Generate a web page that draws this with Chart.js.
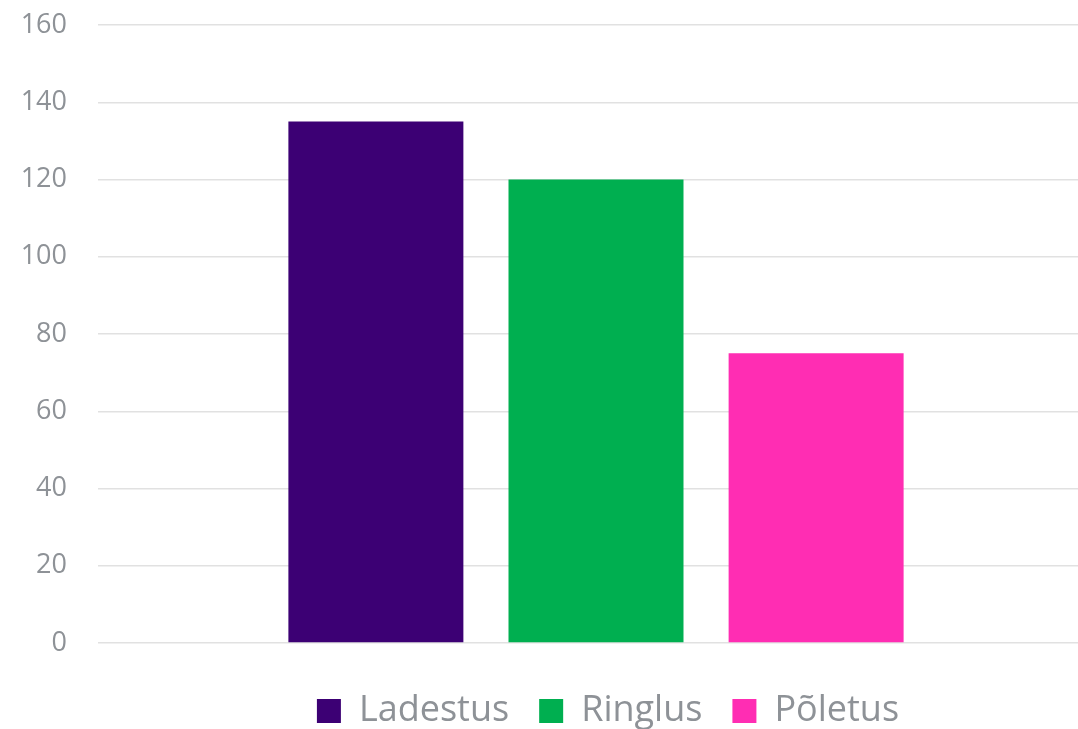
<!DOCTYPE html>
<html>
<head>
<meta charset="utf-8">
<script src="https://cdn.jsdelivr.net/npm/chart.js@4/dist/chart.umd.min.js"></script>
<style>
  html, body { margin: 0; padding: 0; background: #fff; overflow: hidden; }
  #wrap { width: 1110px; height: 729px; position: relative; }
</style>
</head>
<body>
<div id="wrap"><canvas id="wasteChart"></canvas></div>
<script>
const categories = [''];
const seriesNames = ['Ladestus', 'Ringlus', 'Põletus'];
const seriesValues = [[135], [120], [75]];
const seriesColors = ['#3C0074', '#00AF50', '#FF2DB3'];
const yTicks = [0, 20, 40, 60, 80, 100, 120, 140, 160];

const textColor = '#8E9297';

// nudge the legend a bit, Excel puts it lower / slightly right
const legendNudge = {
    id: 'legendNudge',
    afterLayout(chart) {
        const lg = chart.legend;
        if (!lg) return;
        lg.top += 12; lg.bottom += 12;
        lg.left += 12; lg.right += 12;
    }
};

const ctx = document.getElementById('wasteChart').getContext('2d');

const data = {
    labels: categories,
    datasets: seriesNames.map((name, i) => ({
        label: name,
        data: seriesValues[i],
        backgroundColor: seriesColors[i],
        borderWidth: 0,
        categoryPercentage: 0.663,
        barPercentage: 0.795
    }))
};

const config = {
    type: 'bar',
    data: data,
    options: {
        responsive: true,
        maintainAspectRatio: false,
        animation: false,
        layout: {
            padding: { top: 25, right: 16, bottom: 2, left: 0 }
        },
        plugins: {
            tooltip: { enabled: false },
            legend: {
                position: 'bottom',
                fullSize: false,
                labels: {
                    boxWidth: 24,
                    boxHeight: 24,
                    padding: 30,
                    color: textColor,
                    font: { family: 'Open Sans', size: 36 }
                }
            }
        },
        scales: {
            x: {
                grid: { display: false },
                border: { display: false },
                ticks: { display: false }
            },
            y: {
                min: yTicks[0],
                max: yTicks[yTicks.length - 1],
                afterBuildTicks: (scale) => {
                    scale.ticks = yTicks.map(v => ({ value: v }));
                },
                afterFit: (scale) => { scale.width = 98; },
                grid: {
                    color: '#E1E1E1',
                    lineWidth: 1.5,
                    drawTicks: true,
                    tickLength: 31,
                    tickColor: 'rgba(0,0,0,0)'
                },
                border: { display: false },
                ticks: {
                    padding: 0,
                    color: textColor,
                    font: { family: 'Open Sans', size: 27 }
                }
            }
        }
    },
    plugins: [legendNudge]
};

new Chart(ctx, config);
</script>
</body>
</html>
